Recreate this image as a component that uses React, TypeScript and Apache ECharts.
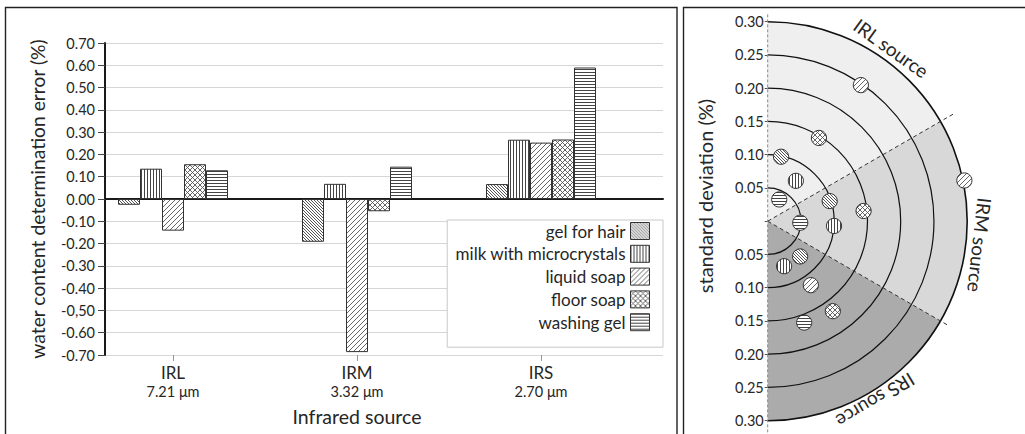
import React, { useEffect, useRef } from "react";
import * as echarts from "echarts";

// ---------- data ----------
const categories = ["IRL", "IRM", "IRS"];
const wavelengths = ["7.21 μm", "3.32 μm", "2.70 μm"];
const samples = ["gel for hair", "milk with microcrystals", "liquid soap", "floor soap", "washing gel"];

// water content determination error (%) per source IRL, IRM, IRS
const gelForHair = [-0.026, -0.192, 0.067];
const milkWithMicrocrystals = [0.136, 0.068, 0.266];
const liquidSoap = [-0.142, -0.687, 0.253];
const floorSoap = [0.156, -0.055, 0.267];
const washingGel = [0.129, 0.145, 0.59];

const errorTickLabels = [
  "-0.70", "-0.60", "-0,50", "-0.40", "-0.30", "-0.20", "-0.10", "0.00",
  "0.10", "0.20", "0.30", "0.40", "0.50", "0.60", "0.70",
];

// standard deviation (%) per sample (same order as samples)
const sdIRL = [0.099, 0.074, 0.248, 0.147, 0.037];
const sdIRM = [0.098, 0.1, 0.302, 0.145, 0.049];
const sdIRS = [0.072, 0.072, 0.116, 0.167, 0.162];
// angular placement of each point inside its source sector (degrees, counter-clockwise from east)
const angleIRL = [78.3, 55.1, 55.6, 58.4, 62.1];
const angleIRM = [18, -4.1, 11.7, 6.1, -2.7];
const angleIRS = [-47.4, -70, -56, -54.1, -70.2];

const sourceLabels = ["IRL source", "IRM source", "IRS source"];
const sectorFrom = [30, -30, -90];
const sectorTo = [90, 30, -30];
const sourceLabelAngles = [54.5, -6.4, -59];
const sdRings = [0.05, 0.1, 0.15, 0.2, 0.25, 0.3];
// tick labels of the vertical axis, from -0.30 (bottom) to 0.30 (top)
const sdTickLabels = [
  "0.30", "0.25", "0.20", "0.15", "0.10", "0.05", "",
  "0.05", "0.10", "0.15", "0.20", "0.25", "0.30",
];

// ---------- styles ----------
const FONT = "Lato, 'Noto Sans', sans-serif";
const TEXT = "#262626";
const SECTOR_FILL = ["#efefef", "#d8d8d8", "#ababab"];
const D = Math.PI / 180;
const LABEL_R = [0.32, 0.321, 0.315];
const RADIAL_EXT = [0.326, 0.312];
const VAXIS_EXT = [0.311, 0.322];
const DOT_R = 7.6;

function makePattern(kind: string, s: number, color: string, lw: number) {
  const c = document.createElement("canvas");
  c.width = s;
  c.height = s;
  const g = c.getContext("2d")!;
  g.fillStyle = "#ffffff";
  g.fillRect(0, 0, s, s);
  g.strokeStyle = color;
  g.fillStyle = color;
  g.lineWidth = lw;
  const diag = (dir: number) => {
    for (let k = -s; k <= s; k += s) {
      g.beginPath();
      if (dir > 0) {
        g.moveTo(k, 0);
        g.lineTo(k + s, s);
      } else {
        g.moveTo(k, s);
        g.lineTo(k + s, 0);
      }
      g.stroke();
    }
  };
  if (kind === "back") diag(1);
  if (kind === "fwd") diag(-1);
  if (kind === "cross") {
    diag(1);
    diag(-1);
  }
  if (kind === "vert") g.fillRect(0, 0, 1, s);
  if (kind === "horiz") g.fillRect(0, 0, s, 1);
  return { image: c, repeat: "repeat", imageWidth: s, imageHeight: s };
}

const toAngle = (a: number) => (a + 360) % 360;

export default function App() {
  const ref = useRef<HTMLDivElement>(null);
  useEffect(() => {
    if (!ref.current) return;
    const chart = echarts.init(ref.current, null, { renderer: "svg" });
    const pats = [
      makePattern("back", 3, "#555", 1),
      makePattern("vert", 3, "#444", 1),
      makePattern("fwd", 5, "#555", 0.9),
      makePattern("cross", 5, "#555", 0.9),
      makePattern("horiz", 3, "#444", 1),
    ];
    const barValues = [gelForHair, milkWithMicrocrystals, liquidSoap, floorSoap, washingGel];
    const sdBySource = [sdIRL, sdIRM, sdIRS];
    const angleBySource = [angleIRL, angleIRM, angleIRS];

    const series: any[] = [];
    samples.forEach((name, i) => {
      series.push({
        name,
        type: "bar",
        xAxisIndex: 1,
        yAxisIndex: 1,
        data: barValues[i],
        barWidth: 22,
        barGap: "0%",
        itemStyle: { color: pats[i], borderColor: "#333", borderWidth: 1 },
      });
    });

    // polar decorations
    const rpx = (params: any, api: any, v: number) => {
      const p = api.coord([v, 0]);
      return Math.hypot(p[0] - params.coordSys.cx, p[1] - params.coordSys.cy);
    };
    series.push({
      type: "custom",
      coordinateSystem: "polar",
      silent: true,
      z: 1,
      data: sectorFrom.map((f, i) => [sdRings[sdRings.length - 1], toAngle(f), toAngle(sectorTo[i])]),
      renderItem: (params: any, api: any) => {
        const cs = params.coordSys;
        const i = params.dataIndex;
        const r = rpx(params, api, api.value(0));
        return {
          type: "sector",
          shape: {
            cx: cs.cx,
            cy: cs.cy,
            r0: 0,
            r,
            startAngle: -sectorTo[i] * D,
            endAngle: -sectorFrom[i] * D,
            clockwise: true,
          },
          style: { fill: SECTOR_FILL[i], stroke: "none" },
        };
      },
    });
    series.push({
      type: "custom",
      coordinateSystem: "polar",
      silent: true,
      z: 2,
      data: sdRings.map((r) => [r, 0]),
      renderItem: (params: any, api: any) => {
        const cs = params.coordSys;
        const r = rpx(params, api, api.value(0));
        const outer = params.dataIndex === sdRings.length - 1;
        return {
          type: "arc",
          shape: { cx: cs.cx, cy: cs.cy, r, startAngle: -Math.PI / 2, endAngle: Math.PI / 2, clockwise: true },
          style: { stroke: "#111", lineWidth: outer ? 1.6 : 1.2, fill: "none" },
        };
      },
    });
    series.push({
      type: "custom",
      coordinateSystem: "polar",
      silent: true,
      z: 3,
      data: [
        [RADIAL_EXT[0], toAngle(sectorFrom[0])],
        [RADIAL_EXT[1], toAngle(sectorFrom[1])],
      ],
      renderItem: (params: any, api: any) => {
        const cs = params.coordSys;
        const p = api.coord([api.value(0), api.value(1)]);
        return {
          type: "line",
          shape: { x1: cs.cx, y1: cs.cy, x2: p[0], y2: p[1] },
          style: { stroke: "#333", lineWidth: 1, lineDash: [4, 3], fill: "none" },
        };
      },
    });
    series.push({
      type: "custom",
      coordinateSystem: "polar",
      silent: true,
      z: 3,
      data: [[VAXIS_EXT[0], 90, VAXIS_EXT[1], 270]],
      renderItem: (params: any, api: any) => {
        const a = api.coord([api.value(0), api.value(1)]);
        const b = api.coord([api.value(2), api.value(3)]);
        return {
          type: "line",
          shape: { x1: a[0], y1: a[1], x2: b[0], y2: b[1] },
          style: { stroke: "#888", lineWidth: 1, lineDash: [3, 2], fill: "none" },
        };
      },
    });
    series.push({
      type: "custom",
      coordinateSystem: "polar",
      silent: true,
      z: 6,
      data: sourceLabelAngles.map((a, i) => [LABEL_R[i], toAngle(a)]),
      renderItem: (params: any, api: any) => {
        const i = params.dataIndex;
        const p = api.coord([api.value(0), api.value(1)]);
        return {
          type: "text",
          x: p[0],
          y: p[1],
          rotation: (sourceLabelAngles[i] - 90) * D,
          style: {
            text: sourceLabels[i],
            fill: TEXT,
            fontSize: 19,
            fontFamily: FONT,
            align: "center",
            verticalAlign: "middle",
          },
        };
      },
    });
    samples.forEach((name, i) => {
      series.push({
        type: "custom",
        name: name + " (SD)",
        coordinateSystem: "polar",
        silent: true,
        z: 5,
        data: sdBySource.map((sd, s) => [sd[i], toAngle(angleBySource[s][i])]),
        renderItem: (params: any, api: any) => {
          const p = api.coord([api.value(0), api.value(1)]);
          return {
            type: "circle",
            shape: { cx: p[0], cy: p[1], r: DOT_R },
            style: { fill: pats[i], stroke: "#333", lineWidth: 1 },
          };
        },
      });
    });

    const option: any = {
      animation: false,
      backgroundColor: "#ffffff",
      textStyle: { fontFamily: FONT, color: TEXT },
      grid: [
        { left: 105, top: 43, width: 558, height: 312 },
        { left: 81, top: 43, width: 552, height: 312 },
        { left: 767.7, top: 21.7, width: 10, height: 399 },
      ],
      xAxis: [
        {
          gridIndex: 0,
          type: "category",
          data: categories,
          axisLabel: { show: false },
          axisTick: { show: false },
          splitLine: { show: false },
          axisLine: { show: true, onZero: true, lineStyle: { color: "#1a1a1a", width: 2 } },
        },
        {
          gridIndex: 1,
          type: "category",
          data: categories,
          position: "bottom",
          axisLine: { show: false, onZero: false },
          axisTick: { show: true, alignWithLabel: true, length: 6, lineStyle: { color: "#999" } },
          splitLine: { show: false },
          axisLabel: {
            margin: 8,
            formatter: (v: string, idx: number) => `{a|${v}}\n{b|${wavelengths[idx]}}`,
            rich: {
              a: { fontSize: 17, lineHeight: 19, color: TEXT, fontFamily: FONT },
              b: { fontSize: 14.5, lineHeight: 19, color: TEXT, fontFamily: FONT },
            },
          },
          name: "Infrared source",
          nameLocation: "middle",
          nameGap: 51,
          nameTextStyle: { fontSize: 19.5, color: TEXT, fontFamily: FONT },
        },
        { gridIndex: 2, type: "value", show: false },
      ],
      yAxis: [
        {
          gridIndex: 0,
          type: "value",
          min: -0.7,
          max: 0.7,
          interval: 0.1,
          axisLine: { show: true, lineStyle: { color: "#1a1a1a", width: 2 } },
          axisTick: { show: true, length: 7, lineStyle: { color: "#444" } },
          axisLabel: {
            fontSize: 14.5,
            color: TEXT,
            fontFamily: FONT,
            margin: 10,
            formatter: (v: number) => errorTickLabels[Math.round((v + 0.7) / 0.1)] ?? "",
          },
          splitLine: { show: true, lineStyle: { color: "#d6d6d6", width: 1 } },
          name: "water content determination error (%)",
          nameLocation: "middle",
          nameGap: 58,
          nameTextStyle: { fontSize: 19.3, color: TEXT, fontFamily: FONT },
        },
        { gridIndex: 1, type: "value", min: -0.7, max: 0.7, show: false },
        {
          gridIndex: 2,
          type: "value",
          min: -0.3,
          max: 0.3,
          interval: 0.05,
          axisLine: { show: false },
          axisTick: { show: true, length: 3, lineStyle: { color: "#555" } },
          splitLine: { show: false },
          axisLabel: {
            fontSize: 14.5,
            color: TEXT,
            fontFamily: FONT,
            margin: 4,
            formatter: (v: number) => sdTickLabels[Math.round((v + 0.3) / 0.05)] ?? "",
          },
        },
      ],
      polar: { center: [767.7, 221.2], radius: 199.5 },
      radiusAxis: { type: "value", min: 0, max: 0.3, show: false },
      angleAxis: { type: "value", min: 0, max: 360, startAngle: 0, clockwise: false, show: false },
      legend: {
        data: samples,
        orient: "vertical",
        right: 362,
        top: 220,
        align: "right",
        icon: "rect",
        itemWidth: 19,
        itemHeight: 17,
        itemGap: 4.8,
        selectedMode: false,
        backgroundColor: "#ffffff",
        borderColor: "#c8c8c8",
        borderWidth: 1,
        padding: [2, 13, 16, 8],
        textStyle: { fontSize: 17, lineHeight: 17, color: TEXT, fontFamily: FONT },
        itemStyle: { borderColor: "#333", borderWidth: 1 },
      },
      graphic: [
        {
          type: "rect",
          silent: true,
          shape: { x: 5.5, y: 7.5, width: 671.5, height: 500 },
          style: { fill: "none", stroke: "#222", lineWidth: 1.4 },
        },
        {
          type: "rect",
          silent: true,
          shape: { x: 683.5, y: 7.5, width: 500, height: 500 },
          style: { fill: "none", stroke: "#222", lineWidth: 1.4 },
        },
        {
          type: "text",
          silent: true,
          x: 705,
          y: 196,
          rotation: Math.PI / 2,
          style: {
            text: "standard deviation (%)",
            fill: TEXT,
            fontSize: 20,
            fontFamily: FONT,
            align: "center",
            verticalAlign: "middle",
          },
        },
      ],
      series,
    };
    chart.setOption(option);
    return () => chart.dispose();
  }, []);
  return (
    <div
      ref={ref}
      style={{ position: "fixed", left: 0, top: 0, width: 1025, height: 434, background: "#fff" }}
    />
  );
}
